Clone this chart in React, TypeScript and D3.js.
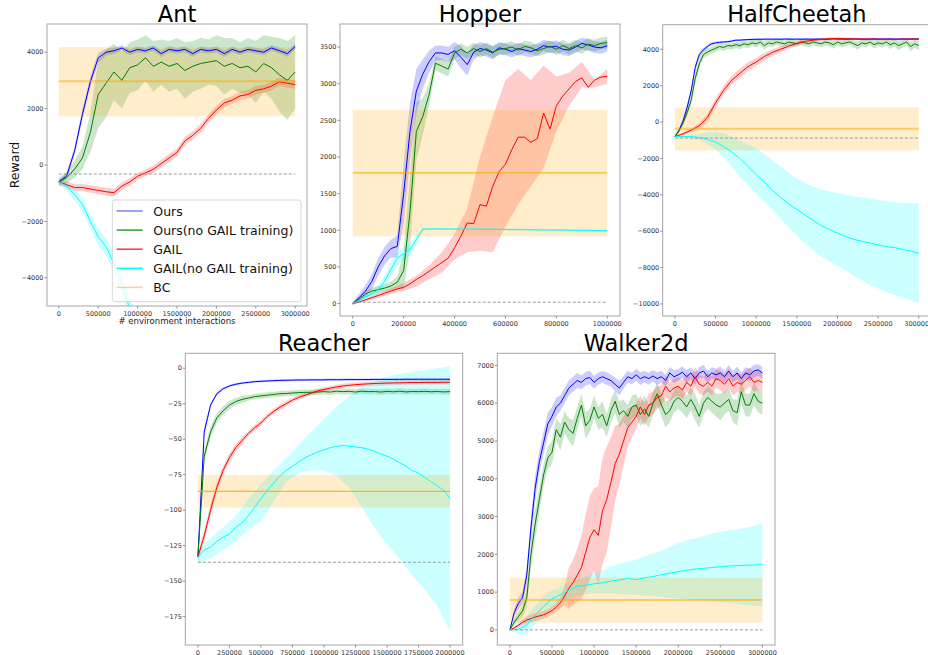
import { useEffect, useRef } from 'react';
import * as d3 from 'd3';

const NAMES = ['Ours', 'Ours(no GAIL training)', 'GAIL', 'GAIL(no GAIL training)', 'BC'];
const COLORS = ['#0000ff', '#008000', '#ff0000', '#00ffff', '#ffa500'];
const LEGEND_ALPHA = [0.5, 0.8, 0.8, 1, 0.5];

// ---------- Ant (100k steps) ----------
const antOurs = [-600, -380, 500, 1800, 2950, 3800, 4000, 4050, 4150, 4000, 4100, 4050, 4150, 3950, 4100, 4050, 4100, 3950, 4100, 4050, 4100, 3950, 4100, 4000, 4100, 4050, 4000, 4150, 4050, 3950, 4200];
const antOursBand = [60, 100, 150, 200, 200, 180, 120, 110, 100, 100, 100, 100, 100, 110, 100, 100, 100, 110, 100, 100, 100, 110, 100, 100, 100, 100, 110, 100, 100, 110, 100];
const antNoGail = [-600, -450, -150, 250, 1150, 2500, 2900, 3300, 3000, 3450, 3550, 3800, 3500, 3650, 3500, 3600, 3350, 3500, 3600, 3650, 3700, 3500, 3600, 3450, 3500, 3300, 3600, 3450, 3200, 3000, 3300];
const antNoGailBand = [150, 200, 300, 400, 700, 1200, 1200, 1000, 1000, 900, 900, 800, 900, 800, 900, 900, 1000, 900, 900, 800, 900, 1000, 900, 900, 1000, 1100, 1000, 1100, 1300, 1400, 1300];
const antGail = [-600, -700, -800, -800, -850, -900, -950, -980, -750, -600, -400, -280, -150, 50, 250, 450, 850, 1050, 1300, 1650, 1950, 2200, 2300, 2450, 2500, 2650, 2700, 2800, 2950, 2900, 2850];
const antGailBand = [100, 120, 120, 130, 130, 140, 140, 140, 130, 130, 120, 120, 130, 130, 140, 140, 150, 150, 150, 150, 150, 150, 150, 150, 150, 150, 150, 150, 150, 150, 150];
const antGailNo = [-600, -750, -1050, -1400, -2000, -2550, -2900, -3500, -4200, -5100, -5600];
const antGailNoBand = [80, 150, 200, 250, 250, 300, 300, 300, 350, 350, 350];
const antBC = [2970, 1727, 4178];
const antRandom = -320;

// ---------- Hopper (25k steps) ----------
const hopOurs = [0, 80, 170, 300, 500, 650, 750, 780, 1500, 2350, 2900, 3130, 3300, 3420, 3420, 3400, 3450, 3360, 3260, 3430, 3480, 3460, 3420, 3490, 3470, 3440, 3480, 3460, 3440, 3470, 3520, 3500, 3510, 3470, 3460, 3500, 3550, 3530, 3500, 3490, 3520];
const hopOursBand = [20, 50, 80, 100, 120, 120, 120, 150, 400, 400, 300, 200, 150, 100, 100, 100, 120, 150, 150, 100, 90, 90, 90, 80, 80, 80, 80, 80, 80, 80, 80, 80, 80, 80, 80, 80, 80, 80, 80, 80, 80];
const hopNoGail = [0, 60, 130, 170, 190, 210, 240, 290, 450, 1250, 2350, 2550, 2850, 3280, 3240, 3200, 3420, 3470, 3420, 3480, 3440, 3480, 3430, 3470, 3480, 3500, 3460, 3510, 3490, 3450, 3480, 3510, 3470, 3520, 3480, 3520, 3490, 3540, 3520, 3550, 3560];
const hopNoGailBand = [20, 30, 40, 50, 50, 50, 60, 80, 250, 500, 400, 250, 150, 100, 100, 100, 80, 80, 80, 80, 80, 80, 80, 80, 80, 80, 80, 80, 80, 80, 80, 80, 80, 80, 80, 80, 80, 80, 80, 80, 80];
const hopGail = [0, 20, 50, 80, 110, 140, 170, 200, 220, 270, 330, 380, 440, 500, 560, 620, 760, 920, 1100, 1090, 1350, 1330, 1600, 1800, 1900, 2100, 2270, 2270, 2200, 2250, 2600, 2380, 2700, 2830, 2930, 3030, 3080, 2950, 3050, 3090, 3100];
const hopGailHi = [0, 60, 140, 210, 280, 380, 520, 700, 950, 1300, 2000, 2550, 3050, 3200, 3050, 3250, 3100, 3150, 3300, 3050, 3200];
const hopGailLo = [0, 30, 80, 130, 170, 230, 330, 420, 600, 700, 720, 700, 1050, 1350, 1600, 1850, 2350, 2700, 2950, 2950, 3000];
const hopGailNo = [0, 40, 90, 130, 190, 300, 470, 620, 680, 740, 870, 1015, 1018, 1018, 1018, 1017, 1017, 1016, 1016, 1015, 1015, 1014, 1013, 1012, 1011, 1010, 1009, 1008, 1007, 1006, 1005, 1004, 1003, 1002, 1001, 1000, 999, 998, 997, 996, 995];
const hopGailNoBand = [10, 20, 30, 40, 50, 80, 100, 100, 90, 80, 60, 20, 15, 15, 15, 15, 15, 15, 15, 15, 15, 15, 15, 15, 15, 15, 15, 15, 15, 15, 15, 15, 15, 15, 15, 15, 15, 15, 15, 15, 15];
const hopBC = [1783, 918, 2642];
const hopRandom = 18;

// ---------- HalfCheetah ----------
const hcOurs = [-800, -450, 50, 800, 1700, 3000, 3700, 3970, 4150, 4300, 4350, 4380, 4400, 4420, 4450, 4500, 4500, 4520, 4530, 4540, 4550,
  4550, 4550, 4560, 4550, 4560, 4550, 4560, 4560, 4550, 4560, 4550, 4560, 4560, 4550, 4560, 4560, 4550, 4560, 4570, 4560,
  4560, 4550, 4560, 4570, 4560, 4560, 4550, 4560, 4570, 4560, 4560, 4560, 4570, 4560, 4560, 4570, 4560, 4560, 4570, 4560];
const hcOursBand = [20, 80, 150, 200, 200, 200, 150, 120, 100, 80, 70, 60, 50, 50, 50, 50, 50, 50, 50, 50, 50,
  50, 50, 50, 50, 50, 50, 50, 50, 50, 50, 50, 50, 50, 50, 50, 50, 50, 50, 50, 50,
  50, 50, 50, 50, 50, 50, 50, 50, 50, 50, 50, 50, 50, 50, 50, 50, 50, 50, 50, 50];
const hcNoGail = [-800, -500, -50, 500, 1200, 2400, 3200, 3700, 3850, 3950, 4050, 4150, 4100, 4200, 4180, 4250, 4200, 4300, 4250, 4350, 4300,
  4400, 4200, 4350, 4300, 4400, 4350, 4300, 4400, 4350, 4300, 4400, 4350, 4300, 4400, 4350, 4300, 4400, 4350, 4250, 4400,
  4300, 4350, 4400, 4300, 4200, 4350, 4300, 4400, 4250, 4350, 4300, 4400, 4250, 4350, 4200, 4300, 4400, 4150, 4300, 4200];
const hcNoGailBand = [20, 80, 150, 200, 250, 300, 250, 200, 200, 180, 180, 170, 200, 180, 190, 180, 200, 170, 190, 180, 200,
  180, 220, 180, 190, 170, 200, 180, 190, 200, 180, 170, 200, 190, 180, 200, 170, 190, 200, 220, 180,
  200, 190, 170, 200, 230, 180, 200, 170, 220, 190, 200, 180, 230, 190, 250, 200, 180, 260, 220, 240];
const hcGail = [-800, -650, -450, -200, 250, 1050, 1750, 2300, 2680, 3050, 3300, 3600, 3830, 4000, 4170, 4320, 4430, 4500, 4550, 4580, 4600, 4580, 4570, 4560, 4560, 4550, 4550, 4540, 4550, 4560, 4560];
const hcGailBand = [20, 60, 100, 150, 200, 250, 250, 250, 250, 230, 220, 200, 180, 160, 140, 120, 100, 80, 70, 60, 60, 60, 60, 60, 60, 60, 60, 60, 60, 60, 60];
const hcGailNo = [-800, -800, -800, -850, -950, -1100, -1350, -1650, -2000, -2450, -2900, -3300, -3750, -4150, -4500, -4800, -5100, -5400, -5700, -5900, -6100, -6300, -6450, -6550, -6650, -6750, -6850, -6900, -7000, -7100, -7200];
const hcGailNoHi = [-800, -760, -700, -650, -580, -560, -620, -800, -1000, -1200, -1400, -1750, -2100, -2450, -2800, -3100, -3350, -3550, -3700, -3800, -3900, -4000, -4080, -4150, -4220, -4280, -4340, -4400, -4440, -4470, -4480];
const hcGailNoLo = [-800, -840, -900, -1000, -1200, -1500, -1950, -2450, -3000, -3500, -3950, -4400, -4850, -5300, -5800, -6250, -6650, -7050, -7400, -7650, -7900, -8150, -8450, -8700, -8950, -9150, -9350, -9500, -9650, -9800, -9950];
const hcBC = [-368, -1561, 803];
const hcRandom = -880;

// ---------- Reacher (50k steps) ----------
const reOurs = [-133, -45, -26, -18, -14.5, -12.5, -11.3, -10.5, -10, -9.5, -9.2, -9, -8.8, -8.6, -8.5, -8.4, -8.3, -8.3, -8.2, -8.2, -8.2, -8.1, -8.1, -8.1, -8, -8, -8, -8, -7.9, -7.9, -7.9, -7.9, -7.9, -7.8, -7.8, -7.8, -7.8, -7.8, -7.8, -7.8, -7.8];
const reOursBand = [4, 3, 1.5, 1, 1, 0.8, 0.8, 0.8, 0.8, 0.8, 0.8, 0.8, 0.8, 0.8, 0.8, 0.8, 0.8, 0.8, 0.8, 0.8, 0.8, 0.8, 0.8, 0.8, 0.8, 0.8, 0.8, 0.8, 0.8, 0.8, 0.8, 0.8, 0.8, 0.8, 0.8, 0.8, 0.8, 0.8, 0.8, 0.8, 0.8];
const reNoGail = [-133, -62, -45, -35, -30, -26, -23.5, -22, -21, -20, -19.5, -19, -18.5, -18, -17.8, -17.5, -17.2, -17, -17, -16.8, -16.5, -16.8, -16.2, -16.5, -16.3, -16.8, -16.2, -16.5, -16.4, -16.8, -16.3, -16.6, -16.2, -16.7, -16.4, -16.5, -16.3, -16.6, -16.4, -16.7, -16.5];
const reNoGailBand = [4, 5, 4, 3.5, 3, 3, 2.5, 2.5, 2, 2, 2, 2, 2, 2, 2, 2, 2, 2, 2, 2, 2, 2, 2, 2, 2, 2, 2, 2, 2, 2, 2, 2, 2, 2, 2, 2, 2, 2, 2, 2, 2];
const reGail = [-133, -118, -100, -84, -72, -63, -56, -51, -46, -42, -38.5, -34, -30.5, -27.5, -25, -22.5, -20.5, -19, -17.5, -16, -15, -14, -13.2, -12.5, -12, -11.6, -11.3, -11, -10.8, -10.6, -10.5, -10.4, -10.3, -10.2, -10.1, -10.1, -10, -10, -10, -9.9, -9.9];
const reGailBand = [3, 4, 4, 3.5, 3, 3, 2.5, 2.5, 2, 2, 2, 2, 2, 2, 2, 1.5, 1.5, 1.5, 1.5, 1.5, 1.5, 1.5, 1.5, 1.5, 1.5, 1.5, 1.5, 1.5, 1.5, 1.5, 1.5, 1.5, 1.5, 1.5, 1.5, 1.5, 1.5, 1.5, 1.5, 1.5, 1.5];
const reGailNo = [-133, -128, -126, -122, -119, -117, -112, -109, -104, -98, -92, -86, -81, -76, -72, -69, -66, -63, -61, -59, -57.5, -56, -55, -54.5, -55, -55.5, -56, -57, -58.5, -60.5, -62, -64, -66.5, -69, -72, -74, -77, -80, -83, -86, -92];
const reGailNoHi = [-128, -120, -112, -104, -92, -82, -72, -63, -54, -45, -36, -27, -20, -13, -9, -6, -4, -2.5, -1.5, 0, 1.5];
const reGailNoLo = [-138, -134, -128, -122, -114, -108, -94, -80, -74, -72, -72, -76, -84, -98, -112, -124, -134, -146, -156, -168, -185];
const reBC = [-86.7, -98.2, -75.2];
const reRandom = -136.7;

// ---------- Walker2d ----------
const wkOurs = [0, 450, 700, 850, 1450, 2700, 3750, 4450, 4950, 5450, 5650, 5900, 6000, 6200, 6400, 6500, 6600, 6550, 6650, 6680,
  6550, 6650, 6700, 6650, 6600, 6500, 6400, 6550, 6700, 6650, 6750, 6650, 6700, 6650, 6720, 6650, 6700, 6600, 6800, 6700,
  6750, 6820, 6700, 6800, 6650, 6800, 6850, 6700, 6800, 6750, 6800, 6700, 6850, 6700, 6800, 6650, 6800, 6750, 6850, 6880, 6800];
const wkOursBand = [0, 100, 150, 150, 200, 300, 350, 300, 300, 300, 250, 250, 200, 200, 200, 200, 200, 180, 180, 180,
  170, 160, 150, 170, 160, 180, 200, 170, 160, 150, 160, 170, 150, 160, 150, 170, 160, 150, 160, 170,
  150, 160, 170, 150, 160, 150, 170, 160, 150, 160, 170, 150, 160, 150, 170, 160, 150, 160, 170, 150, 160];
const wkNoGail = [0, 200, 350, 500, 850, 2000, 2800, 3450, 4100, 4550, 4700, 5300, 5100, 5500, 5300, 5200, 5600, 5950, 5400, 5550,
  5900, 5600, 5700, 5400, 5800, 6050, 5700, 5800, 5650, 5900, 5950, 5700, 5850, 5650, 6000, 6250, 5950, 5700, 5800, 6050,
  6150, 6050, 5900, 6100, 5900, 5650, 6000, 6150, 6050, 5950, 5900, 6000, 6100, 5800, 5750, 6300, 5950, 5950, 6250, 6050, 6000];
const wkNoGailBand = [0, 80, 120, 150, 250, 350, 400, 350, 300, 300, 300, 300, 350, 300, 300, 350, 300, 300, 350, 300,
  300, 300, 350, 300, 300, 300, 350, 300, 300, 300, 300, 300, 350, 300, 300, 300, 300, 350, 300, 300,
  300, 300, 300, 300, 350, 300, 300, 300, 300, 300, 350, 300, 300, 300, 350, 300, 300, 300, 300, 300, 300];
const wkGail = [0, 50, 120, 200, 260, 300, 340, 370, 400, 450, 510, 600, 720, 900, 1100, 1250, 1450, 1650, 2050, 2450,
  2650, 2500, 3150, 3450, 3900, 4400, 4650, 5000, 5350, 5500, 5650, 5900, 5700, 5950, 6000, 6150, 6200, 6450, 6300, 6400,
  6450, 6350, 6550, 6450, 6700, 6500, 6450, 6550, 6450, 6650, 6600, 6500, 6650, 6450, 6550, 6500, 6600, 6700, 6550, 6600, 6550];
const wkGailBand = [0, 30, 60, 80, 100, 100, 100, 100, 100, 100, 100, 120, 150, 250, 550, 600, 700, 850, 1000, 1100,
  1100, 1300, 1400, 1400, 1200, 1000, 800, 650, 500, 400, 350, 300, 300, 300, 300, 300, 280, 280, 250, 250,
  250, 250, 250, 250, 250, 250, 250, 250, 250, 250, 250, 250, 250, 250, 250, 250, 250, 250, 250, 250, 250];
const wkGailNo = [0, 20, 130, 400, 620, 820, 930, 1050, 1150, 1180, 1220, 1250, 1290, 1320, 1360, 1330, 1380, 1410, 1460, 1500, 1540, 1580, 1610, 1630, 1650, 1670, 1690, 1700, 1710, 1715, 1730];
const wkGailNoHi = [0, 150, 350, 650, 900, 1050, 1150, 1250, 1330, 1410, 1500, 1580, 1680, 1760, 1800, 1850, 1950, 2030, 2100, 2200, 2300, 2380, 2420, 2480, 2550, 2600, 2630, 2660, 2700, 2750, 2820];
const wkGailNoLo = [0, -120, -120, 150, 330, 550, 700, 830, 900, 940, 960, 970, 960, 950, 940, 930, 910, 890, 870, 850, 830, 810, 790, 770, 750, 730, 710, 690, 660, 640, 620];
const wkBC = [793, 193, 1383];
const wkRandom = 0;

// tick values
const ticks3M = [0, 500000, 1000000, 1500000, 2000000, 2500000, 3000000];
const ticks1M = [0, 200000, 400000, 600000, 800000, 1000000];
const ticks2M = [0, 250000, 500000, 750000, 1000000, 1250000, 1500000, 1750000, 2000000];
const antYTicks = [-4000, -2000, 0, 2000, 4000];
const hopYTicks = [0, 500, 1000, 1500, 2000, 2500, 3000, 3500];
const hcYTicks = [-10000, -8000, -6000, -4000, -2000, 0, 2000, 4000];
const reYTicks = [-175, -150, -125, -100, -75, -50, -25, 0];
const wkYTicks = [0, 1000, 2000, 3000, 4000, 5000, 6000, 7000];

interface Run { mean: number[]; band?: number[]; lo?: number[]; hi?: number[]; end?: number }
interface Panel {
  title: string;
  box: [number, number, number, number];
  xMax: number;
  xDomain: [number, number];
  yDomain: [number, number];
  xTicks: number[];
  yTicks: number[];
  runs: Run[];
  bc: number[];
  random: number;
  bcLine: [number, number];
}

const panels: Panel[] = [
  {
    title: 'Ant', box: [47, 24, 307, 306], xMax: 3000000,
    xDomain: [-150000, 3150000], yDomain: [-5000, 5000], xTicks: ticks3M, yTicks: antYTicks,
    runs: [
      { mean: antOurs, band: antOursBand },
      { mean: antNoGail, band: antNoGailBand },
      { mean: antGail, band: antGailBand },
      { mean: antGailNo, band: antGailNoBand, end: 1000000 },
    ],
    bc: antBC, random: antRandom, bcLine: [2, 0.5],
  },
  {
    title: 'Hopper', box: [340, 24, 620, 316], xMax: 1000000,
    xDomain: [-50000, 1050000], yDomain: [-170, 3815], xTicks: ticks1M, yTicks: hopYTicks,
    runs: [
      { mean: hopOurs, band: hopOursBand },
      { mean: hopNoGail, band: hopNoGailBand },
      { mean: hopGail, lo: hopGailLo, hi: hopGailHi },
      { mean: hopGailNo, band: hopGailNoBand },
    ],
    bc: hopBC, random: hopRandom, bcLine: [1, 1],
  },
  {
    title: 'HalfCheetah', box: [662.7, 24.7, 931, 316], xMax: 3000000,
    xDomain: [-150000, 3150000], yDomain: [-10660, 5350], xTicks: ticks3M, yTicks: hcYTicks,
    runs: [
      { mean: hcOurs, band: hcOursBand },
      { mean: hcNoGail, band: hcNoGailBand },
      { mean: hcGail, band: hcGailBand },
      { mean: hcGailNo, lo: hcGailNoLo, hi: hcGailNoHi },
    ],
    bc: hcBC, random: hcRandom, bcLine: [2, 0.5],
  },
  {
    title: 'Reacher', box: [185.3, 353.3, 462.7, 645], xMax: 2000000,
    xDomain: [-100000, 2100000], yDomain: [-195, 10.5], xTicks: ticks2M, yTicks: reYTicks,
    runs: [
      { mean: reOurs, band: reOursBand },
      { mean: reNoGail, band: reNoGailBand },
      { mean: reGail, band: reGailBand },
      { mean: reGailNo, lo: reGailNoLo, hi: reGailNoHi },
    ],
    bc: reBC, random: reRandom, bcLine: [1, 1],
  },
  {
    title: 'Walker2d', box: [497.3, 353.3, 775, 645], xMax: 3000000,
    xDomain: [-150000, 3150000], yDomain: [-400, 7320], xTicks: ticks3M, yTicks: wkYTicks,
    runs: [
      { mean: wkOurs, band: wkOursBand },
      { mean: wkNoGail, band: wkNoGailBand },
      { mean: wkGail, band: wkGailBand },
      { mean: wkGailNo, lo: wkGailNoLo, hi: wkGailNoHi },
    ],
    bc: wkBC, random: wkRandom, bcLine: [2, 0.5],
  },
];

const FONT = '"DejaVu Sans", sans-serif';
const fmt = (d: number) => String(d).replace('-', '\u2212');

export default function App() {
  const ref = useRef<SVGSVGElement>(null);

  useEffect(() => {
    if (!ref.current) return;
    const svg = d3.select(ref.current);
    svg.selectAll('*').remove();

    panels.forEach((p, pi) => {
      const [l, t, r, b] = p.box;
      const x = d3.scaleLinear().domain(p.xDomain).range([l, r]);
      const y = d3.scaleLinear().domain(p.yDomain).range([b, t]);
      const g = svg.append('g');

      const clipId = `clip-${pi}`;
      svg.append('clipPath').attr('id', clipId)
        .append('rect').attr('x', l).attr('y', t).attr('width', r - l).attr('height', b - t);

      const plot = g.append('g').attr('clip-path', `url(#${clipId})`);

      const pts = (arr: number[], end: number) =>
        arr.map((v, i) => [(i / (arr.length - 1)) * end, v] as [number, number]);

      // bands (drawn under all lines, like matplotlib's collections)
      p.runs.forEach((run, i) => {
        const end = run.end ?? p.xMax;
        let band: { x: number; lo: number; hi: number }[];
        if (run.lo && run.hi) {
          band = run.lo.map((v, k) => ({ x: (k / (run.lo!.length - 1)) * end, lo: v, hi: run.hi![k] }));
        } else {
          band = run.mean.map((v, k) => ({ x: (k / (run.mean.length - 1)) * end, lo: v - run.band![k], hi: v + run.band![k] }));
        }
        const area = d3.area<{ x: number; lo: number; hi: number }>()
          .x(d => x(d.x)).y0(d => y(d.lo)).y1(d => y(d.hi));
        plot.append('path').datum(band)
          .attr('d', area)
          .attr('fill', COLORS[i])
          .attr('fill-opacity', 0.2);
      });

      // BC band
      plot.append('rect')
        .attr('x', x(0)).attr('width', x(p.xMax) - x(0))
        .attr('y', y(p.bc[2])).attr('height', y(p.bc[1]) - y(p.bc[2]))
        .attr('fill', COLORS[4]).attr('fill-opacity', 0.2);

      // mean lines
      const line = d3.line<[number, number]>().x(d => x(d[0])).y(d => y(d[1]));
      p.runs.forEach((run, i) => {
        plot.append('path').datum(pts(run.mean, run.end ?? p.xMax))
          .attr('d', line)
          .attr('fill', 'none')
          .attr('stroke', COLORS[i])
          .attr('stroke-width', 1);
      });

      // BC mean
      plot.append('line')
        .attr('x1', x(0)).attr('x2', x(p.xMax))
        .attr('y1', y(p.bc[0])).attr('y2', y(p.bc[0]))
        .attr('stroke', COLORS[4])
        .attr('stroke-width', p.bcLine[0])
        .attr('stroke-opacity', p.bcLine[1]);

      // random policy
      plot.append('line')
        .attr('x1', x(0)).attr('x2', x(p.xMax))
        .attr('y1', y(p.random)).attr('y2', y(p.random))
        .attr('stroke', '#999')
        .attr('stroke-width', 1)
        .attr('stroke-dasharray', '3,2');

      // frame
      g.append('rect')
        .attr('x', l).attr('y', t).attr('width', r - l).attr('height', b - t)
        .attr('fill', 'none').attr('stroke', '#a6a6a6').attr('stroke-width', 1);

      // ticks
      p.yTicks.forEach(v => {
        g.append('line').attr('x1', l - 2.5).attr('x2', l).attr('y1', y(v)).attr('y2', y(v))
          .attr('stroke', '#777').attr('stroke-width', 0.8);
        g.append('text').attr('x', l - 3.5).attr('y', y(v)).attr('dy', '0.35em')
          .attr('text-anchor', 'end').attr('font-size', 6.5).attr('fill', '#333')
          .attr('font-family', FONT).text(fmt(v));
      });
      p.xTicks.forEach(v => {
        g.append('line').attr('x1', x(v)).attr('x2', x(v)).attr('y1', b).attr('y2', b + 2.5)
          .attr('stroke', '#777').attr('stroke-width', 0.8);
        g.append('text').attr('x', x(v)).attr('y', b + 9.5)
          .attr('text-anchor', 'middle').attr('font-size', 6.5).attr('fill', '#333')
          .attr('font-family', FONT).text(fmt(v));
      });

      // title
      g.append('text').attr('x', (l + r) / 2).attr('y', t - 2.3)
        .attr('text-anchor', 'middle').attr('font-size', 22.5).attr('fill', '#000')
        .attr('font-family', FONT).text(p.title);

      if (pi === 0) {
        g.append('text').attr('x', (l + r) / 2).attr('y', 324)
          .attr('text-anchor', 'middle').attr('font-size', 8.5).attr('fill', '#222')
          .attr('font-family', FONT).text('# environment interactions');
        g.append('text')
          .attr('transform', `translate(19,${(t + b) / 2}) rotate(-90)`)
          .attr('text-anchor', 'middle').attr('font-size', 12.5).attr('fill', '#111')
          .attr('font-family', FONT).text('Reward');

        // legend
        const lg = g.append('g');
        lg.append('rect')
          .attr('x', 112.3).attr('y', 200).attr('width', 188.7).attr('height', 101.7)
          .attr('rx', 2.5).attr('fill', '#fff').attr('fill-opacity', 0.8)
          .attr('stroke', '#d6d6d6').attr('stroke-width', 1);
        NAMES.forEach((name, i) => {
          const yy = 211 + i * 19.1;
          lg.append('line').attr('x1', 116.7).attr('x2', 142.7).attr('y1', yy).attr('y2', yy)
            .attr('stroke', COLORS[i]).attr('stroke-width', 1.5).attr('stroke-opacity', LEGEND_ALPHA[i]);
          lg.append('text').attr('x', 153.3).attr('y', yy).attr('dy', '0.36em')
            .attr('font-size', 12.5).attr('fill', '#111').attr('font-family', FONT).text(name);
        });
      }
    });
  }, []);

  return (
    <svg
      ref={ref}
      width={928}
      height={655}
      style={{ position: 'absolute', left: 0, top: 0, background: '#fff' }}
    />
  );
}
